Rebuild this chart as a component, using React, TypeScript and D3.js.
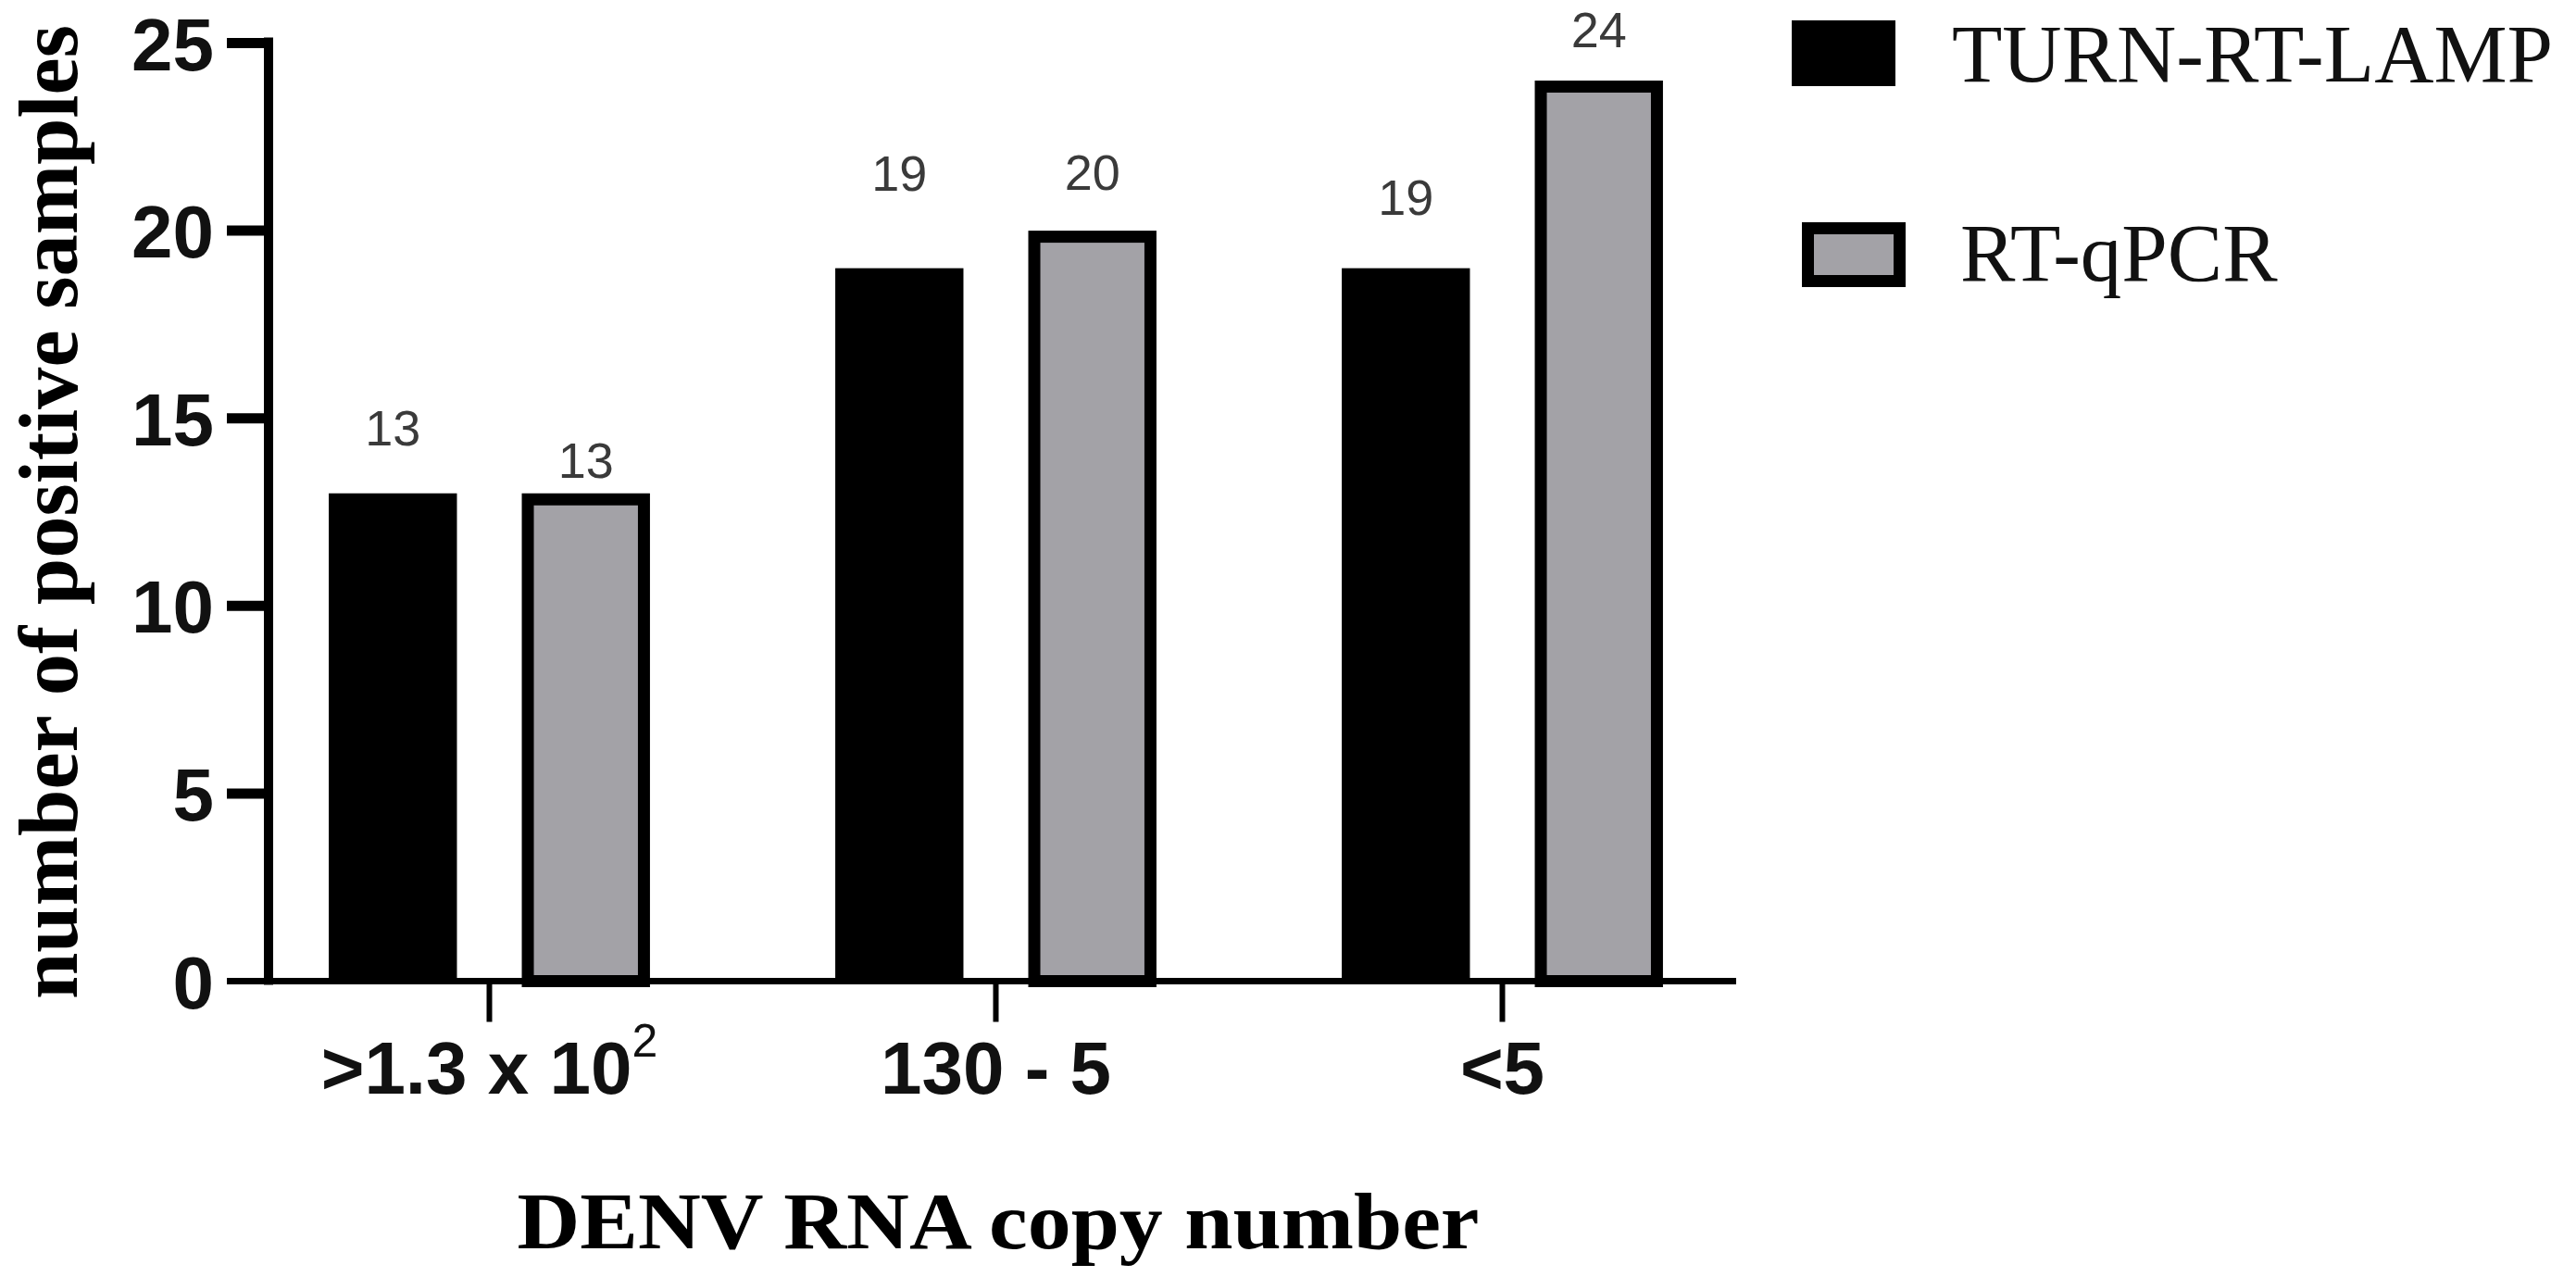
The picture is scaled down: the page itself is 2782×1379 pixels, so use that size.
import React from 'react';
import * as d3 from 'd3';

// ---------- data ----------
const categories = ['>1.3 x 10^2', '130 - 5', '<5'];
const series = ['TURN-RT-LAMP', 'RT-qPCR'];
const turnRtLamp = [13, 19, 19];
const rtQpcr = [13, 20, 24];
const yTicks = [0, 5, 10, 15, 20, 25];
const xTitle = 'DENV RNA copy number';
const yTitle = 'number of positive samples';

// ---------- layout (not data) ----------
const W = 2782;
const H = 1379;
const LABEL_LIFT = [
  [52, 17],
  [84, 44],
  [58, 36],
];
const GREY = '#a3a2a7';
const SANS = 'Arial, "Liberation Sans", Helvetica, sans-serif';
const SERIF = '"Palatino Linotype", "Book Antiqua", "Liberation Serif", "Times New Roman", serif';

export default function App() {
  const values = [turnRtLamp, rtQpcr];
  const y = d3.scaleLinear().domain([0, 25]).range([1059.5, 46.5]);
  const x0 = d3.scaleBand<string>().domain(categories).range([255, 1896]).paddingInner(0).paddingOuter(0);
  const x1 = d3
    .scaleBand<string>()
    .domain(series)
    .range([0, x0.bandwidth()])
    .paddingInner(0.336)
    .paddingOuter(0.48);
  const bw = x1.bandwidth();
  const axisX = 290;
  const axisEnd = 1875;
  const border = 13;

  const renderCat = (c: string) => {
    const [main, sup] = c.split('^');
    return (
      <>
        {main}
        {sup ? (
          <tspan dy={-40} fontSize={50} fontWeight="normal">
            {sup}
          </tspan>
        ) : null}
      </>
    );
  };

  return (
    <svg
      width={W}
      height={H}
      viewBox={`0 0 ${W} ${H}`}
      style={{ position: 'absolute', left: 0, top: 0, background: '#fff', display: 'block' }}
    >
      <rect x={0} y={0} width={W} height={H} fill="#fff" />

      {/* bars */}
      {categories.map((c, ci) =>
        series.map((s, si) => {
          const v = values[si][ci];
          const bx = (x0(c) as number) + (x1(s) as number);
          const top = y(v);
          const bottom = y(0);
          if (si === 0) {
            return <rect key={c + s} x={bx} y={top} width={bw} height={bottom - top} fill="#000" />;
          }
          return (
            <rect
              key={c + s}
              x={bx + border / 2}
              y={top + border / 2}
              width={bw - border}
              height={bottom - top - border / 2}
              fill={GREY}
              stroke="#000"
              strokeWidth={border}
            />
          );
        })
      )}

      {/* value labels */}
      {categories.map((c, ci) =>
        series.map((s, si) => {
          const v = values[si][ci];
          const cx = (x0(c) as number) + (x1(s) as number) + bw / 2;
          return (
            <text
              key={'l' + c + s}
              x={cx}
              y={y(v) - LABEL_LIFT[ci][si]}
              textAnchor="middle"
              fontFamily={SANS}
              fontSize={54}
              fill="#3a3a3a"
            >
              {v}
            </text>
          );
        })
      )}

      {/* y axis */}
      <line x1={axisX} x2={axisX} y1={y(25) - 6} y2={y(0) + 4} stroke="#000" strokeWidth={10} />
      {yTicks.map((t) => (
        <g key={'yt' + t}>
          <line x1={245} x2={axisX} y1={y(t)} y2={y(t)} stroke="#000" strokeWidth={t === 0 ? 7 : 11} />
          <text
            x={231}
            y={y(t) + 29}
            textAnchor="end"
            fontFamily={SANS}
            fontWeight="bold"
            fontSize={80}
            fill="#111"
          >
            {t}
          </text>
        </g>
      ))}

      {/* x axis */}
      <line x1={axisX} x2={axisEnd} y1={y(0)} y2={y(0)} stroke="#000" strokeWidth={7} />
      {categories.map((c) => {
        const cx = (x0(c) as number) + x0.bandwidth() / 2;
        return (
          <g key={'xt' + c}>
            <line x1={cx} x2={cx} y1={y(0)} y2={y(0) + 44} stroke="#000" strokeWidth={6} />
            <text
              x={cx}
              y={1181}
              textAnchor="middle"
              fontFamily={SANS}
              fontWeight="bold"
              fontSize={80}
              fill="#111"
            >
              {renderCat(c)}
            </text>
          </g>
        );
      })}

      {/* axis titles */}
      <text
        x={(y(0) + y(25)) / 2}
        y={0}
        transform={`translate(83, ${(y(0) + y(25)) / 2}) rotate(-90) translate(${-(y(0) + y(25)) / 2}, 0)`}
        textAnchor="middle"
        fontFamily={SERIF}
        fontWeight="bold"
        fontSize={90}
        textLength={1052}
        lengthAdjust="spacingAndGlyphs"
        fill="#000"
      >
        {yTitle}
      </text>
      <text
        x={1078}
        y={1348}
        textAnchor="middle"
        fontFamily={SERIF}
        fontWeight="bold"
        fontSize={86}
        textLength={1039}
        lengthAdjust="spacingAndGlyphs"
        fill="#000"
      >
        {xTitle}
      </text>

      {/* legend */}
      <rect x={1935} y={22} width={112} height={71} fill="#000" />
      <rect
        x={1946 + border / 2}
        y={240 + border / 2}
        width={112 - border}
        height={70 - border}
        fill={GREY}
        stroke="#000"
        strokeWidth={border}
      />
      {series.map((s, i) => (
        <text
          key={'lg' + s}
          x={i === 0 ? 2108 : 2117}
          y={i === 0 ? 88 : 303}
          fontFamily={SERIF}
          fontSize={89}
          fill="#111"
        >
          {s}
        </text>
      ))}
    </svg>
  );
}
